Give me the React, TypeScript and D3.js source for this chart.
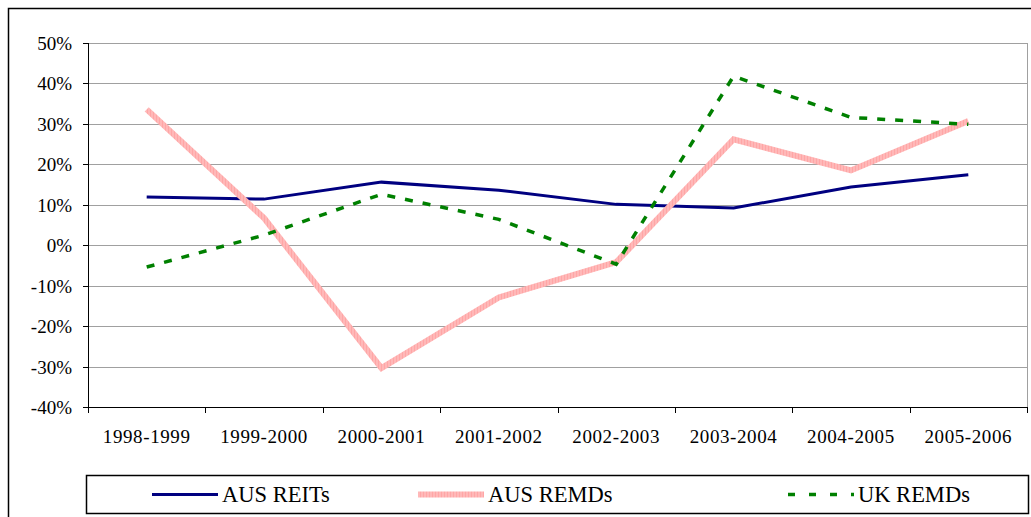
import React from 'react';
import * as d3 from 'd3';

const periods = ['1998-1999', '1999-2000', '2000-2001', '2001-2002', '2002-2003', '2003-2004', '2004-2005', '2005-2006'];
const ausReits = [11.9, 11.4, 15.6, 13.6, 10.1, 9.2, 14.4, 17.4];
const ausRemds = [33.6, 6.7, -30.4, -12.9, -4.2, 26.2, 18.5, 30.7];
const ukRemds = [-5.4, 2.5, 12.6, 6.4, -4.7, 41.8, 31.6, 29.9];
const yTicks = [-40, -30, -20, -10, 0, 10, 20, 30, 40, 50];

const series = [
  { name: 'AUS REITs', values: ausReits, color: '#000080', width: 3, dash: undefined },
  { name: 'AUS REMDs', values: ausRemds, color: 'url(#hatch)', width: 6, dash: undefined },
  { name: 'UK REMDs', values: ukRemds, color: '#008000', width: 3.5, dash: '8,10' },
];

const W = 1031;
const H = 517;

export default function App() {
  const left = 88, right = 1027, top = 43, bottom = 407;
  const x = d3.scaleBand().domain(periods).range([left, right]);
  const y = d3.scaleLinear().domain([-40, 50]).range([bottom, top]);
  const cx = (p: string) => (x(p) as number) + x.bandwidth() / 2;
  const line = d3.line<number>().x((_, i) => cx(periods[i])).y((d) => y(d));
  const bounds = [...periods.map((p) => x(p) as number), right];
  const lx = [152, 418, 788];
  const py = (v: number) => Math.round(y(v)) + 0.5;

  return (
    <svg width={W} height={H} style={{ position: 'absolute', left: 0, top: 0 }}>
      <defs>
        <pattern id="hatch" patternUnits="userSpaceOnUse" width={3} height={3}>
          <rect width={3} height={3} fill="#ffb8b8" />
          <rect width={1} height={3} fill="#ffa6a6" />
        </pattern>
      </defs>
      <rect x={8.5} y={8.5} width={1040} height={540} fill="white" stroke="black" strokeWidth={1.5} />

      {/* grid */}
      {yTicks.filter((t) => t > -40).map((t) => (
        <line key={t} x1={left} x2={right} y1={py(t)} y2={py(t)} stroke="#a0a0a0" />
      ))}
      <line x1={right + 0.5} x2={right + 0.5} y1={top} y2={bottom} stroke="#a0a0a0" />

      {/* y axis */}
      <line x1={left + 0.5} x2={left + 0.5} y1={top} y2={bottom} stroke="black" />
      {yTicks.map((t) => (
        <line key={t} x1={left - 5} x2={left} y1={py(t)} y2={py(t)} stroke="black" />
      ))}
      {yTicks.map((t) => (
        <text key={t} x={left - 16} y={py(t) + 6.5} textAnchor="end"
          fontFamily="Liberation Serif" fontSize={19}>{`${t}%`}</text>
      ))}

      {/* x axis */}
      <line x1={left} x2={right} y1={bottom + 0.5} y2={bottom + 0.5} stroke="black" />
      {bounds.map((b, i) => (
        <line key={i} x1={Math.round(b) + 0.5} x2={Math.round(b) + 0.5} y1={bottom} y2={bottom + 6} stroke="black" />
      ))}
      {periods.map((p) => (
        <text key={p} x={cx(p)} y={bottom + 36} textAnchor="middle"
          fontFamily="Times New Roman" fontSize={19} letterSpacing={0.6}>{p}</text>
      ))}

      {/* lines */}
      {series.map((s) => (
        <path key={s.name} d={line(s.values) || ''} fill="none" stroke={s.color}
          strokeWidth={s.width} strokeDasharray={s.dash} strokeLinejoin="miter" />
      ))}

      {/* legend */}
      <rect x={86.5} y={475.5} width={942} height={38} fill="white" stroke="black" strokeWidth={1.5} />
      {series.map((s, i) => (
        <line key={s.name} x1={lx[i]} x2={lx[i] + 66} y1={494.5} y2={494.5} stroke={s.color} strokeWidth={s.width}
          strokeDasharray={s.dash ? '7,14' : undefined} />
      ))}
      {series.map((s, i) => (
        <text key={s.name} x={lx[i] + 70} y={502} fontFamily="Tinos" fontSize={22.5}>{s.name}</text>
      ))}
    </svg>
  );
}
